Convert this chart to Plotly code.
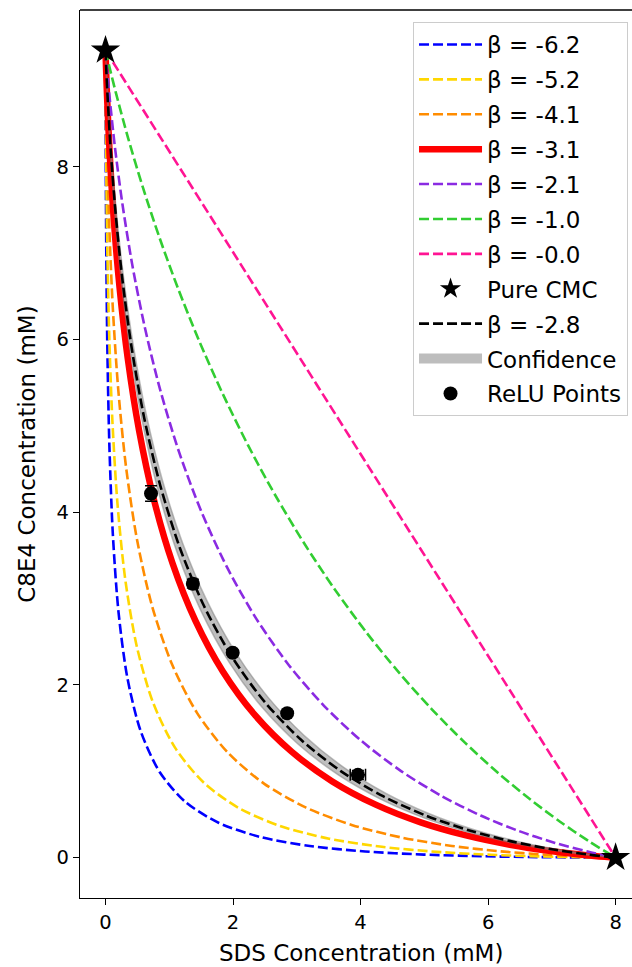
import plotly.graph_objects as go

# ---- data (SDS conc, C8E4 conc in mM) ----
sds_b62 = [0, 0.0004, 0.0015, 0.0053, 0.0136, 0.0303, 0.0612, 0.115, 0.204, 0.3435, 0.5518, 0.849, 1.2537, 1.780, 2.433, 3.205, 4.072, 4.994, 5.915, 6.767, 7.483, 7.821, 8]
c8_b62 = [9.35, 9.140, 8.746, 7.909, 6.913, 5.837, 4.760, 3.746, 2.844, 2.080, 1.465, 0.9923, 0.6449, 0.4014, 0.2384, 0.1344, 0.0715, 0.0354, 0.0159, 0.0062, 0.0017, 0.0005, 0]

sds_b52 = [0, 0.0011, 0.0037, 0.0119, 0.0280, 0.0574, 0.1073, 0.1878, 0.3112, 0.4922, 0.7467, 1.090, 1.535, 2.089, 2.750, 3.507, 4.335, 5.198, 6.049, 6.835, 7.502, 7.824, 8]
c8_b52 = [9.35, 9.144, 8.768, 7.989, 7.070, 6.075, 5.067, 4.099, 3.214, 2.441, 1.794, 1.274, 0.8727, 0.5753, 0.3637, 0.2195, 0.1254, 0.0671, 0.0328, 0.0139, 0.0043, 0.0013, 0]

sds_b41 = [0, 0.0031, 0.0099, 0.0289, 0.0620, 0.1160, 0.1993, 0.3219, 0.4953, 0.7314, 1.0415, 1.435, 1.918, 2.491, 3.147, 3.872, 4.644, 5.432, 6.201, 6.911, 7.522, 7.827, 8]
c8_b41 = [9.35, 9.148, 8.792, 8.077, 7.247, 6.349, 5.427, 4.525, 3.678, 2.911, 2.242, 1.677, 1.217, 0.8548, 0.5789, 0.3762, 0.2329, 0.1356, 0.0725, 0.0338, 0.0116, 0.0036, 0]

sds_b31 = [0, 0.0081, 0.0244, 0.0650, 0.1278, 0.2200, 0.3497, 0.5254, 0.7557, 1.0483, 1.4094, 1.8428, 2.3487, 2.923, 3.557, 4.237, 4.943, 5.654, 6.342, 6.980, 7.541, 7.830, 8]
c8_b31 = [9.35, 9.152, 8.814, 8.158, 7.412, 6.608, 5.777, 4.952, 4.157, 3.416, 2.745, 2.1538, 1.6473, 1.2252, 0.8832, 0.6141, 0.4087, 0.2572, 0.1494, 0.0759, 0.0285, 0.0095, 0]

sds_b21 = [0, 0.0213, 0.0601, 0.1460, 0.2632, 0.4173, 0.6138, 0.8577, 1.1530, 1.5025, 1.9073, 2.3662, 2.8759, 3.4302, 4.0205, 4.6356, 5.262, 5.8844, 6.4862, 7.0504, 7.5602, 7.8334, 8]
c8_b21 = [9.35, 9.155, 8.836, 8.240, 7.581, 6.877, 6.150, 5.418, 4.699, 4.009, 3.361, 2.7655, 2.2291, 1.7561, 1.3476, 1.0024, 0.7174, 0.4877, 0.3076, 0.1706, 0.0703, 0.0249, 0]

sds_b10 = [0, 0.0612, 0.1622, 0.3559, 0.5826, 0.8437, 1.1396, 1.4703, 1.8351, 2.2326, 2.6603, 3.1152, 3.5934, 4.0903, 4.6004, 5.1180, 5.6365, 6.1491, 6.6487, 7.1284, 7.581, 7.8369, 8]
c8_b10 = [9.35, 9.159, 8.860, 8.331, 7.771, 7.187, 6.588, 5.982, 5.377, 4.780, 4.200, 3.6409, 3.1092, 2.6093, 2.1448, 1.7184, 1.3319, 0.9860, 0.6810, 0.4159, 0.1896, 0.0716, 0]

sds_b00 = [0, 8]
c8_b00 = [9.35, 0]

sds_fit = [0, 0.0109, 0.0320, 0.0828, 0.1587, 0.2666, 0.4140, 0.6086, 0.8578, 1.1678, 1.5433, 1.9864, 2.4958, 3.0667, 3.6901, 4.3525, 5.0368, 5.7219, 6.3848, 7.0012, 7.5470, 7.8312, 8]
c8_fit = [9.35, 9.153, 8.821, 8.183, 7.462, 6.687, 5.887, 5.087, 4.313, 3.584, 2.917, 2.3216, 1.8038, 1.3649, 1.0026, 0.7113, 0.4839, 0.3116, 0.1855, 0.0968, 0.0374, 0.0127, 0]

sds_band_lo = [0, 0.0099, 0.0292, 0.0764, 0.1476, 0.2501, 0.3914, 0.5795, 0.8223, 1.1265, 1.4973, 1.9373, 2.4457, 3.0180, 3.6452, 4.3136, 5.0054, 5.6991, 6.3704, 6.9942, 7.5451, 7.8309, 8]
c8_band_lo = [9.35, 9.152, 8.818, 8.175, 7.445, 6.661, 5.850, 5.042, 4.260, 3.527, 2.858, 2.2642, 1.7500, 1.3166, 0.9611, 0.6773, 0.4574, 0.2923, 0.1726, 0.0893, 0.0341, 0.0115, 0]
sds_band_hi = [0, 0.0120, 0.0350, 0.0898, 0.1706, 0.2842, 0.4380, 0.6392, 0.8948, 1.2107, 1.5907, 2.0366, 2.5469, 3.1162, 3.7356, 4.3919, 5.0683, 5.7448, 6.3992, 7.0082, 7.5489, 7.8315, 8]
c8_band_hi = [9.35, 9.153, 8.823, 8.191, 7.479, 6.714, 5.924, 5.133, 4.366, 3.642, 2.977, 2.3803, 1.8592, 1.4150, 1.0458, 0.7471, 0.5119, 0.3322, 0.1994, 0.1050, 0.0409, 0.0140, 0]

pure_sds = [0, 8]
pure_c8 = [9.35, 0]

relu_sds = [0.714, 1.370, 1.995, 2.849, 3.958]
relu_c8 = [4.217, 3.173, 2.373, 1.673, 0.959]
relu_sds_err = [0.05, 0.06, 0.04, 0.03, 0.12]
relu_c8_err = [0.09, 0.05, 0.03, 0.03, 0.05]

x_ticks = [0, 2, 4, 6, 8]
y_ticks = [0, 2, 4, 6, 8]

# ---- styles ----
FONT = "DejaVu Sans"
LW = 2.6
DASH = "10px,4px"
LEG_FONT = 23

curves = [
    ("β = -6.2", sds_b62, c8_b62, "#0000ff"),
    ("β = -5.2", sds_b52, c8_b52, "#ffd700"),
    ("β = -4.1", sds_b41, c8_b41, "#ff8c00"),
    ("β = -3.1", sds_b31, c8_b31, "#ff0000"),
    ("β = -2.1", sds_b21, c8_b21, "#8a2be2"),
    ("β = -1.0", sds_b10, c8_b10, "#32cd32"),
    ("β = -0.0", sds_b00, c8_b00, "#ff1493"),
]

fig = go.Figure()
rank = 1
for name, xs, ys, col in curves:
    if name == "β = -3.1":
        line = dict(color=col, width=6.5, shape="spline", smoothing=0.8)
    else:
        line = dict(color=col, width=LW, dash=DASH, shape="spline", smoothing=0.8)
    fig.add_trace(go.Scatter(x=xs, y=ys, mode="lines", name=name, line=line,
                             legendgroup=name, legendrank=rank))
    rank += 1

# confidence band
fig.add_trace(go.Scatter(
    x=sds_band_lo + sds_band_hi[::-1], y=c8_band_lo + c8_band_hi[::-1],
    mode="lines", fill="toself", fillcolor="rgba(128,128,128,0.5)",
    line=dict(color="rgba(128,128,128,0.5)", width=1.5, shape="spline", smoothing=0.8),
    name="Confidence", legendgroup="conf", showlegend=False))
fig.add_trace(go.Scatter(
    x=[None], y=[None], mode="lines", name="Confidence",
    line=dict(color="#bdbdbd", width=14),
    legendgroup="conf", legendrank=10))

# fitted curve
fig.add_trace(go.Scatter(x=sds_fit, y=c8_fit, mode="lines", name="β = -2.8",
                         line=dict(color="black", width=LW, dash=DASH, shape="spline", smoothing=0.8),
                         legendgroup="fit", legendrank=9))

# pure CMC stars
fig.add_trace(go.Scatter(x=pure_sds, y=pure_c8, mode="markers", name="Pure CMC",
                         marker=dict(symbol="star", size=22, color="black"),
                         legendgroup="pure", legendrank=8, cliponaxis=False))

# ReLU points
fig.add_trace(go.Scatter(
    x=relu_sds, y=relu_c8, mode="markers", name="ReLU Points",
    marker=dict(symbol="circle", size=14, color="black"),
    error_x=dict(type="data", array=relu_sds_err, color="black", thickness=1.5, width=6),
    error_y=dict(type="data", array=relu_c8_err, color="black", thickness=1.5, width=6),
    legendgroup="relu", legendrank=11))

axis_common = dict(
    showgrid=False, zeroline=False, showline=True, linecolor="black", linewidth=1.4,
    ticks="outside", ticklen=6, tickwidth=1.4, tickcolor="black",
    tickfont=dict(family=FONT, size=19.5, color="black"),
)

fig.update_xaxes(range=[-0.4, 8.257], tickvals=x_ticks, ticktext=[str(v) for v in x_ticks],
                 **axis_common)
fig.update_yaxes(range=[-0.4675, 9.8175], tickvals=y_ticks, ticktext=[str(v) for v in y_ticks],
                 title=dict(text="C8E4 Concentration (mM)", font=dict(family=FONT, size=23, color="black"),
                            standoff=14),
                 **axis_common)

fig.add_annotation(text="SDS Concentration (mM)", x=4.0, xref="x", y=0, yref="paper",
                   yshift=-40, yanchor="top", showarrow=False,
                   font=dict(family=FONT, size=23, color="black"))

# top spine
fig.add_shape(type="line", xref="paper", yref="paper", x0=0, x1=1, y0=1, y1=1,
              line=dict(color="black", width=1.4))

fig.update_layout(
    width=632, height=967,
    margin=dict(l=80, r=0, t=10, b=69),
    plot_bgcolor="white", paper_bgcolor="white",
    font=dict(family=FONT, color="black"),
    showlegend=True,
    legend=dict(
        x=0.9928, y=0.9865, xanchor="right", yanchor="top",
        bgcolor="rgba(255,255,255,0.8)", bordercolor="#cccccc", borderwidth=1,
        font=dict(family=FONT, size=LEG_FONT, color="black"),
        traceorder="grouped", tracegroupgap=2, itemwidth=63,
    ),
)

fig.write_html("out.html")
